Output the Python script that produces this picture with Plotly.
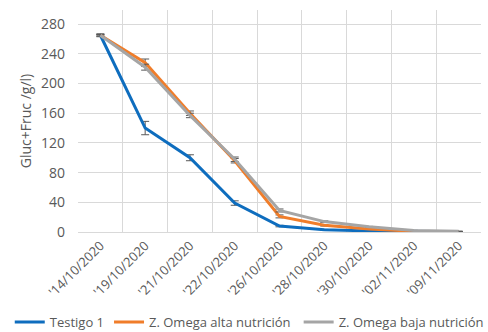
import plotly.graph_objects as go

dates = ["'14/10/2020", "'19/10/2020", "'21/10/2020", "'22/10/2020", "'26/10/2020",
         "'28/10/2020", "'30/10/2020", "'02/11/2020", "'09/11/2020"]

testigo = [265, 140, 100, 39, 8, 3, 1.5, 0.6, 0.3]
testigo_err = [1, 9, 4, 3, 1, 0.5, 0.3, 0.2, 0.1]

alta = [265, 228, 160, 96, 21, 9, 4, 1, 0.5]
alta_err = [1, 5, 3, 3, 2, 1, 0.5, 0.2, 0.1]

baja = [265, 222, 157, 98, 29, 14, 7, 2, 1]
baja_err = [2, 4, 3, 3, 2, 1, 0.5, 0.3, 0.2]

y_ticks = [0, 40, 80, 120, 160, 200, 240, 280]

FONT = "Open Sans"
TXT = "#595959"
GRID = "#d9d9d9"
ERR = "#595959"

fig = go.Figure()

def add(name, y, err, color, legend):
    fig.add_trace(go.Scatter(
        x=dates, y=y, name=name, mode="lines",
        line=dict(color=color, width=3),
        error_y=dict(type="data", array=err, visible=True, color=ERR,
                     thickness=1, width=4),
        legend=legend,
    ))

add("Testigo 1", testigo, testigo_err, "#0E6DBE", "legend")
add("Z. Omega alta nutrición", alta, alta_err, "#F07D2A", "legend")
add("Z. Omega baja nutrición", baja, baja_err, "#A5A5A5", "legend2")

fig.update_layout(
    width=488, height=332,
    margin=dict(l=78, r=7, t=10, b=100, autoexpand=False),
    paper_bgcolor="white", plot_bgcolor="white",
    font=dict(family=FONT, size=13, color=TXT),
    showlegend=True,
    legend=dict(orientation="h", xref="container", yref="container",
                x=0.02, xanchor="left", y=0.03, yanchor="middle",
                font=dict(family=FONT, size=13, color=TXT), bgcolor="rgba(0,0,0,0)"),
    legend2=dict(orientation="h", xref="container", yref="container",
                 x=0.612, xanchor="left", y=0.03, yanchor="middle",
                 font=dict(family=FONT, size=13, color=TXT), bgcolor="rgba(0,0,0,0)"),
)

fig.update_xaxes(
    type="category", tickson="boundaries", ticks="",
    showgrid=True, gridcolor=GRID, gridwidth=1,
    showline=True, linecolor=GRID, linewidth=1,
    tickangle=-45, tickfont=dict(family=FONT, size=13, color=TXT),
    range=[-0.5, 8.5], automargin=False,
)

fig.update_yaxes(
    range=[0, 299], tickvals=y_ticks, ticktext=[str(v) for v in y_ticks],
    showgrid=True, gridcolor=GRID, gridwidth=1,
    showline=False, zeroline=False,
    ticklabelstandoff=12, automargin=False,
    tickfont=dict(family=FONT, size=14, color=TXT),
    title=dict(text="Gluc+Fruc /g/l)", font=dict(family=FONT, size=14, color=TXT), standoff=6),
)

fig.write_html("out.html", post_script="document.body.style.margin='0';",
               config={"displayModeBar": False})
